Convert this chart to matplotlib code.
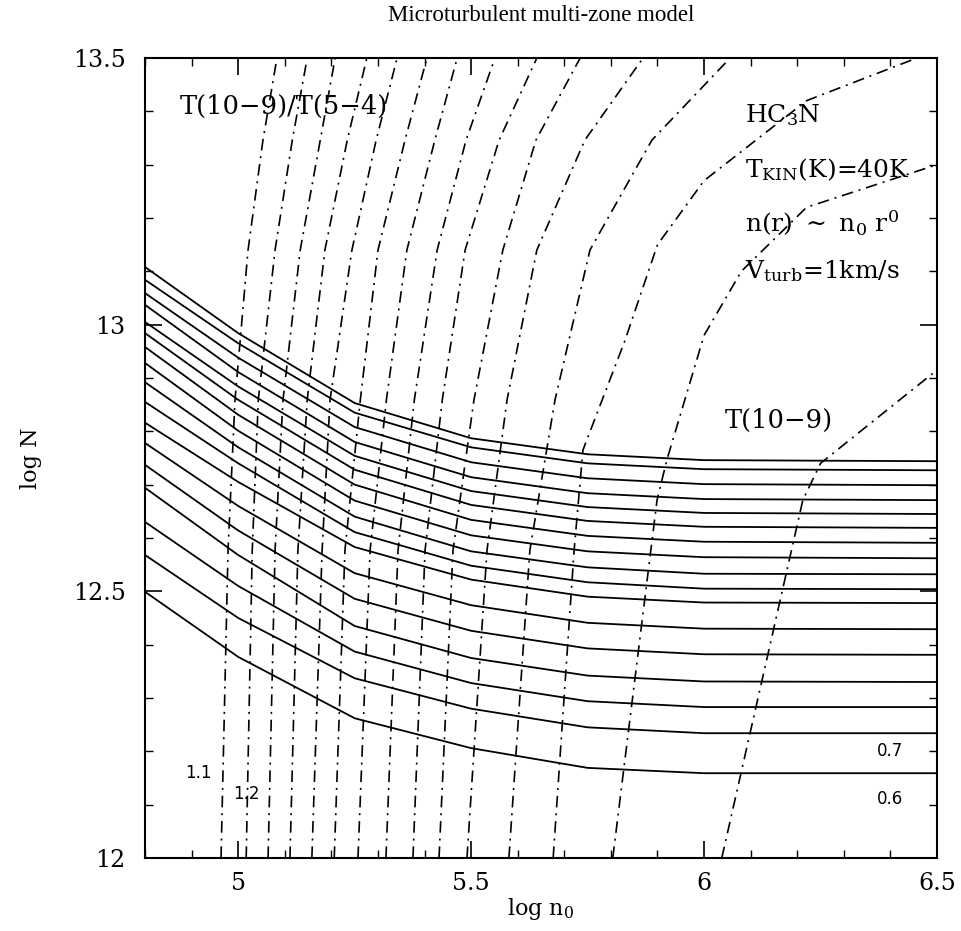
import matplotlib.pyplot as plt
import numpy as np
from matplotlib.ticker import MultipleLocator, FuncFormatter

plt.rcParams['mathtext.fontset'] = 'dejavuserif'

# grid of log n0 where the solid contours bend
n0_grid = [4.8, 5.0, 5.25, 5.5, 5.75, 6.0, 6.5]

# solid contours, log N at each n0_grid point (top to bottom)
N_lines = [
    [13.108, 12.984, 12.853, 12.787, 12.757, 12.746, 12.744],
    [13.084, 12.965, 12.835, 12.770, 12.740, 12.729, 12.727],
    [13.059, 12.938, 12.808, 12.742, 12.712, 12.701, 12.699],
    [13.037, 12.911, 12.780, 12.714, 12.684, 12.673, 12.671],
    [13.005, 12.884, 12.754, 12.688, 12.658, 12.647, 12.645],
    [12.984, 12.859, 12.728, 12.662, 12.632, 12.621, 12.619],
    [12.958, 12.831, 12.700, 12.634, 12.604, 12.593, 12.591],
    [12.928, 12.801, 12.670, 12.605, 12.575, 12.564, 12.562],
    [12.892, 12.770, 12.640, 12.575, 12.545, 12.533, 12.532],
    [12.855, 12.740, 12.611, 12.548, 12.517, 12.505, 12.504],
    [12.816, 12.705, 12.583, 12.522, 12.490, 12.479, 12.478],
    [12.778, 12.660, 12.534, 12.474, 12.441, 12.430, 12.429],
    [12.737, 12.614, 12.486, 12.426, 12.393, 12.382, 12.381],
    [12.694, 12.568, 12.435, 12.375, 12.342, 12.331, 12.330],
    [12.630, 12.510, 12.387, 12.328, 12.294, 12.283, 12.283],
    [12.568, 12.450, 12.337, 12.280, 12.245, 12.234, 12.234],
    [12.499, 12.377, 12.262, 12.206, 12.169, 12.159, 12.159],
]

# ratio contours (dash-dot): log n0 at these log N levels
ratio_N = [12.0, 12.577, 12.859, 13.14, 13.346, 13.5]
ratio_lines = [
    [4.963, 4.978, 4.993, 5.021, 5.053, 5.083],
    [5.017, 5.030, 5.043, 5.079, 5.116, 5.148],
    [5.064, 5.079, 5.096, 5.133, 5.176, 5.208],
    [5.111, 5.128, 5.148, 5.186, 5.234, 5.276],
    [5.158, 5.180, 5.197, 5.244, 5.296, 5.341],
    [5.206, 5.229, 5.262, 5.300, 5.358, 5.405],
    [5.257, 5.283, 5.318, 5.362, 5.422, 5.470],
    [5.317, 5.343, 5.378, 5.427, 5.489, 5.551],
    [5.375, 5.401, 5.438, 5.487, 5.560, 5.641],
    [5.431, 5.461, 5.506, 5.568, 5.639, 5.734],
    [5.491, 5.534, 5.577, 5.641, 5.744, 5.869],
    [5.581, 5.626, 5.680, 5.755, 5.888, 6.056],
]
# the three right-hand ones bend over to the right
c13_x = [5.676, 5.721, 5.740, 5.83, 5.90, 6.0, 6.22, 6.457]
c13_y = [12.0, 12.577, 12.765, 12.97, 13.15, 13.27, 13.42, 13.5]
c14_x = [5.804, 5.899, 5.920, 6.0, 6.08, 6.22, 6.5]
c14_y = [12.0, 12.671, 12.746, 12.98, 13.10, 13.22, 13.30]
c15_x = [6.038, 6.212, 6.25, 6.5]
c15_y = [12.0, 12.671, 12.74, 12.915]

serif = 'DejaVu Serif'
dashdot = (0, (7, 3.5, 1.2, 3.5))

fig = plt.figure(figsize=(9.61, 9.31), dpi=100)
ax = fig.add_axes([0.151, 0.0784, 0.824, 0.8593])

for yy in N_lines:
    ax.plot(n0_grid, yy, color='black', lw=1.3)

for xx in ratio_lines:
    ax.plot(xx, ratio_N, color='black', lw=1.2, linestyle=dashdot)
for xx, yy in [(c13_x, c13_y), (c14_x, c14_y), (c15_x, c15_y)]:
    ax.plot(xx, yy, color='black', lw=1.2, linestyle=dashdot)

ax.set_xlim(4.8, 6.5)
ax.set_ylim(12, 13.5)

ax.xaxis.set_major_locator(MultipleLocator(0.5))
ax.xaxis.set_minor_locator(MultipleLocator(0.1))
ax.yaxis.set_major_locator(MultipleLocator(0.5))
ax.yaxis.set_minor_locator(MultipleLocator(0.1))
fmt = FuncFormatter(lambda v, p: '%g' % v)
ax.xaxis.set_major_formatter(fmt)
ax.yaxis.set_major_formatter(fmt)
ax.tick_params(which='both', direction='in', top=True, right=True, color='black')
ax.tick_params(which='major', length=12, width=1.2, labelsize=17, pad=10)
ax.tick_params(which='minor', length=6, width=1.0)
ax.tick_params(axis='y', which='major', pad=14)
for lab in ax.get_xticklabels() + ax.get_yticklabels():
    lab.set_family(serif)
for s in ax.spines.values():
    s.set_linewidth(1.5)

ax.set_xlabel(r'log n$_0$', family=serif, fontsize=16, labelpad=1)
ax.set_ylabel('log N', family=serif, fontsize=16, labelpad=22)
ax.set_title('Microturbulent multi-zone model', family='Liberation Serif',
             fontsize=16.5, pad=27)

big = 18
ax.text(4.875, 13.41, 'T(10\u22129)/T(5\u22124)', family=serif, fontsize=18.5, va='center')
ax.text(6.088, 13.393, r'HC$_3$N', family=serif, fontsize=big, va='center')
ax.text(6.088, 13.29, r'T$_{\mathrm{KIN}}$(K)=40K', family=serif, fontsize=big, va='center')
ax.text(6.088, 13.19, r'n(r) $\sim$ n$_0$ r$^0$', family=serif, fontsize=big, va='center')
ax.text(6.088, 13.10, r'V$_{\mathrm{turb}}$=1km/s', family=serif, fontsize=big, va='center')
ax.text(6.045, 12.82, 'T(10\u22129)', family=serif, fontsize=18.5, va='center')

ax.text(4.886, 12.16, '1.1', fontsize=12, va='center')
ax.text(4.99, 12.12, '1.2', fontsize=12, va='center')
ax.text(6.37, 12.20, '0.7', fontsize=12, va='center')
ax.text(6.37, 12.11, '0.6', fontsize=12, va='center')

fig.savefig('out.png', dpi=100)
